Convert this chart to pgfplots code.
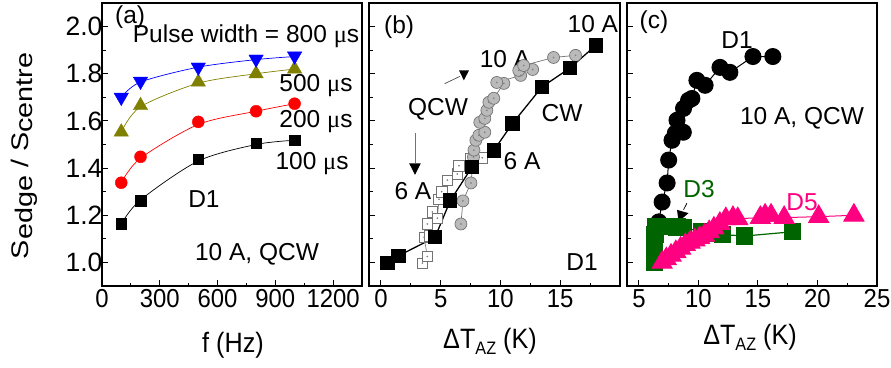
\documentclass[border=0pt]{standalone}
\usepackage{fontspec}
\setmainfont{Liberation Sans}
\newfontfamily\serifmu{Liberation Serif}
\newfontfamily\xtickfont[FakeStretch=0.92]{Liberation Sans}
\newfontfamily\xlabfont[FakeStretch=0.9]{Liberation Sans}
\newfontfamily\ylabfont[FakeStretch=1.2]{Liberation Sans}
\usepackage{pgfplots}
\pgfplotsset{compat=1.18}
\usepackage{pgfplotstable}
\usetikzlibrary{arrows.meta}

\definecolor{dgreen}{RGB}{0,100,0}
\definecolor{dmag}{RGB}{255,0,128}
\definecolor{olv}{RGB}{128,128,0}
\newcommand{\mus}{{\serifmu μ}s}
\newcommand{\annot}{\fontsize{24.5}{26}\selectfont}

% panel (b) data
\pgfplotstableread{
x y
0.55 0.997
1.47 1.028
4.53 1.107
5.80 1.262
7.64 1.406
9.44 1.475
11.00 1.589
13.47 1.744
15.83 1.825
17.97 1.920
}\cwtab
\pgfplotstableread{
x y
6.69 1.163
6.86 1.261
7.53 1.337
7.74 1.447
7.78 1.476
7.94 1.518
8.19 1.539
8.69 1.552
8.27 1.594
8.69 1.611
8.86 1.645
9.03 1.679
9.44 1.696
10.28 1.759
9.69 1.763
11.69 1.793
11.53 1.814
12.69 1.818
11.94 1.835
14.44 1.869
16.28 1.878
}\qcwcirc
\pgfplotstableread{
x y
3.47 0.997
3.88 1.025
3.61 1.107
4.03 1.113
3.88 1.163
4.30 1.214
4.72 1.188
4.86 1.268
5.08 1.300
5.55 1.349
6.38 1.375
6.53 1.410
7.50 1.441
8.47 1.444
}\qcwsq
% panel (c) data
\pgfplotstableread{
x y
6.67 1.172
6.95 1.256
7.37 1.337
7.50 1.434
7.78 1.518
8.06 1.548
8.73 1.552
8.20 1.603
8.75 1.653
9.17 1.687
9.45 1.695
9.87 1.772
10.56 1.751
11.81 1.827
12.64 1.806
14.58 1.873
16.25 1.873
}\dione
\pgfplotstableread{
x y
6.28 1.000
6.28 1.030
6.30 1.060
6.30 1.090
6.35 1.120
6.40 1.150
7.00 1.152
7.60 1.152
8.20 1.150
8.70 1.148
10.30 1.130
11.00 1.122
12.00 1.118
13.90 1.112
17.93 1.130
}\dthree
\pgfplotstableread{
x y
6.95 1.000
7.30 1.015
7.70 1.030
8.10 1.045
8.50 1.060
8.90 1.075
9.30 1.085
9.70 1.095
10.10 1.105
10.50 1.115
10.90 1.130
11.30 1.145
11.80 1.165
12.30 1.185
12.90 1.190
13.30 1.185
15.20 1.190
15.60 1.200
16.10 1.200
17.20 1.190
20.10 1.194
23.06 1.200
}\dfive

\pgfplotsset{
  panel/.style={
    scale only axis, height=283pt, anchor=south west,
    ymin=0.9, ymax=2.1,
    ytick={1,1.2,1.4,1.6,1.8,2},
    minor ytick={1.1,1.3,1.5,1.7,1.9},
    tick align=inside, xtick pos=bottom, ytick pos=left,
    major tick length=6pt, minor tick length=3.5pt,
    axis line style={line width=1.3pt},
    every tick/.append style={line width=1pt, black},
    every minor tick/.append style={line width=0.8pt, black},
    /pgf/number format/assume math mode=true,
    /pgf/number format/1000 sep={},
    xticklabel style={font=\xtickfont\fontsize{26}{26}\selectfont},
    yticklabel style={font=\fontsize{26.5}{26.5}\selectfont, xshift=4pt,
      /pgf/number format/fixed, /pgf/number format/fixed zerofill,
      /pgf/number format/precision=1},
    xlabel style={font=\xlabfont\fontsize{28}{28}\selectfont, anchor=center},
  }
}

\begin{document}
\begin{tikzpicture}
\path[use as bounding box] (0,0) rectangle (891pt,367pt);

% ---------------- panel (a)
\begin{axis}[panel, at={(102pt,81pt)}, width=260pt,
  xmin=0, xmax=1350, xtick={0,300,600,900,1200},
  minor xtick={150,450,750,1050},
  xlabel={f (Hz)},
  xlabel style={at={(axis description cs:0.504,-0.210)}},
  ylabel={S\raisebox{-4pt}{edge} / S\raisebox{-4pt}{centre}},
  ylabel style={font=\ylabfont\fontsize{24}{24}\selectfont,
    at={(axis description cs:-0.30,0.46)}, anchor=center},
]
\addplot[black, line width=0.7pt, smooth] coordinates {(100,1.163) (200,1.265) (500,1.430) (800,1.500) (1000,1.518)};
\addplot[red, line width=0.7pt, smooth] coordinates {(100,1.338) (200,1.442) (500,1.585) (800,1.641) (1000,1.673)};
\addplot[olv, line width=0.7pt, smooth] coordinates {(100,1.553) (200,1.660) (500,1.760) (800,1.800) (1000,1.820)};
\addplot[blue, line width=0.7pt, smooth] coordinates {(100,1.700) (200,1.765) (500,1.828) (800,1.860) (1000,1.873)};
\addplot[only marks, mark=square*, mark size=5.3pt, mark options={fill=black, draw=black}] coordinates {(100,1.163) (200,1.261) (500,1.438) (800,1.505) (1000,1.518)};
\addplot[only marks, mark=*, mark size=6pt, mark options={fill=red, draw=red}] coordinates {(100,1.338) (200,1.448) (500,1.596) (800,1.641) (1000,1.673)};
\addplot[only marks, mark=triangle*, mark size=8.3pt, mark options={fill=olv, draw=olv}] coordinates {(100,1.553) (200,1.665) (500,1.765) (800,1.800) (1000,1.820)};
\addplot[only marks, mark=triangle*, mark size=8.3pt, mark options={fill=blue, draw=blue, rotate=180}] coordinates {(100,1.700) (200,1.768) (500,1.828) (800,1.862) (1000,1.875)};
\node[font=\annot] at (rel axis cs:0.108,0.951) {(a)};
\node[font=\annot] at (rel axis cs:0.554,0.883) {Pulse width = 800 \mus};
\node[font=\annot] at (rel axis cs:0.823,0.707) {500 \mus};
\node[font=\annot] at (rel axis cs:0.823,0.580) {200 \mus};
\node[font=\annot] at (rel axis cs:0.808,0.431) {100 \mus};
\node[font=\annot] at (rel axis cs:0.392,0.307) {D1};
\node[font=\annot] at (rel axis cs:0.596,0.113) {10 A, QCW};
\end{axis}

% ---------------- panel (b)
\begin{axis}[panel, at={(369pt,81pt)}, width=251pt,
  xmin=-1, xmax=20, xtick={0,5,10,15},
  minor xtick={2.5,7.5,12.5,17.5},
  yticklabels={},
  xlabel={ΔT\raisebox{-6pt}{\fontsize{18}{18}\selectfont AZ} (K)},
  xlabel style={at={(axis description cs:0.482,-0.195)}},
]
\addplot[black!55, line width=0.6pt, mark=square*, mark size=5.2pt,
  mark options={fill=white, draw=black!55, line width=0.7pt}] table {\qcwsq};
\addplot[only marks, mark=*, mark size=0.6pt, black!50] table {\qcwsq};
\addplot[black!55, line width=0.7pt, mark=*, mark size=6pt,
  mark options={fill=black!27, draw=black!55, line width=0.7pt}] table {\qcwcirc};
\addplot[only marks, mark=*, mark size=0.6pt, black!50] table {\qcwcirc};
\addplot[black, line width=1.3pt, mark=square*, mark size=6.5pt,
  mark options={fill=black, draw=black}] table {\cwtab};
\draw[black!70, line width=0.7pt] (axis cs:5.33,1.758) -- (axis cs:6.61,1.789);
\fill[black] (axis cs:6.53,1.814) -- (axis cs:7.36,1.814) -- (axis cs:6.94,1.772) -- cycle;
\draw[black!55, line width=0.7pt] (axis cs:2.85,1.548) -- (axis cs:2.85,1.42);
\fill[black] (axis cs:2.36,1.42) -- (axis cs:3.33,1.42) -- (axis cs:2.85,1.371) -- cycle;
\node[font=\annot] at (rel axis cs:0.120,0.913) {(b)};
\node[font=\annot] at (rel axis cs:0.892,0.926) {10 A};
\node[font=\annot] at (rel axis cs:0.542,0.802) {10 A};
\node[font=\annot] at (rel axis cs:0.275,0.625) {QCW};
\node[font=\annot] at (rel axis cs:0.175,0.336) {6 A};
\node[font=\annot] at (rel axis cs:0.610,0.442) {6 A};
\node[font=\annot] at (rel axis cs:0.769,0.611) {CW};
\node[font=\annot] at (rel axis cs:0.849,0.085) {D1};
\end{axis}

% ---------------- panel (c)
\begin{axis}[panel, at={(627pt,81pt)}, width=250pt,
  xmin=4, xmax=25, xtick={5,10,15,20,25},
  minor xtick={7.5,12.5,17.5,22.5},
  yticklabels={},
  xlabel={ΔT\raisebox{-6pt}{\fontsize{18}{18}\selectfont AZ} (K)},
  xlabel style={at={(axis description cs:0.492,-0.180)}},
]
\addplot[black, line width=1pt, mark=*, mark size=8pt,
  mark options={fill=black, draw=black}] table {\dione};
\addplot[dgreen, line width=1.2pt, mark=square*, mark size=8pt,
  mark options={fill=dgreen, draw=dgreen}] table {\dthree};
\addplot[dmag, line width=1pt, mark=triangle*, mark size=11.5pt,
  mark options={fill=dmag, draw=dmag}] table {\dfive};
\draw[black, line width=0.7pt] (axis cs:9.03,1.251) -- (axis cs:8.75,1.223);
\fill[black] (axis cs:8.2,1.223) -- (axis cs:9.17,1.209) -- (axis cs:8.33,1.173) -- cycle;
\node[font=\annot] at (rel axis cs:0.108,0.933) {(c)};
\node[font=\annot] at (rel axis cs:0.44,0.869) {D1};
\node[font=\annot] at (rel axis cs:0.70,0.594) {10 A, QCW};
\node[font=\annot, text=dgreen] at (rel axis cs:0.288,0.343) {D3};
\node[font=\annot, text=dmag] at (rel axis cs:0.70,0.297) {D5};
\end{axis}
\end{tikzpicture}
\end{document}
